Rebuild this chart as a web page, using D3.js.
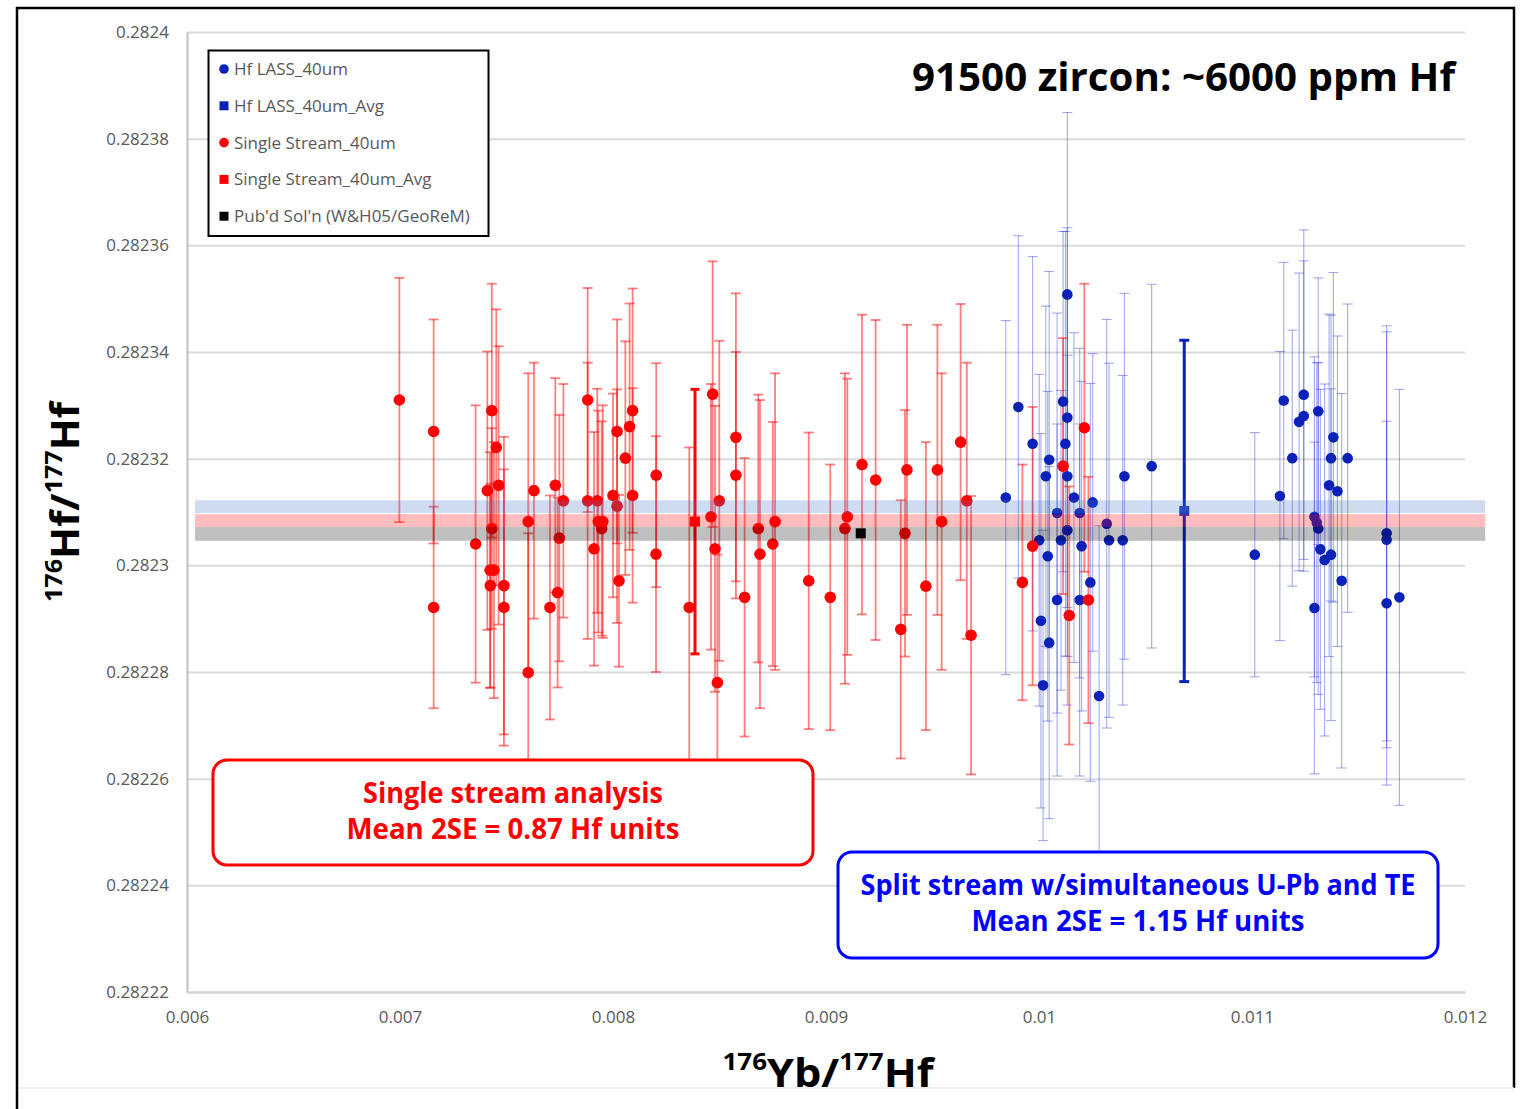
<!DOCTYPE html>
<html>
<head>
<meta charset="utf-8">
<script src="https://cdn.jsdelivr.net/npm/d3@7"></script>
<style>
  body { margin: 0; background: #fff; }
  svg text { font-family: "Open Sans", sans-serif; }
</style>
</head>
<body>
<div id="chart"></div>
<script>
// Single stream (red) spots: 176Yb/177Hf, 176Hf/177Hf, 2SE
const singleX = [
  0.006997, 0.007158, 0.007158, 0.007355, 0.007410, 0.007431, 0.007452, 0.007463, 0.007431, 0.007423,
  0.007441, 0.007424, 0.007488, 0.007488, 0.007602, 0.007602, 0.007629, 0.007704, 0.007729, 0.007740,
  0.007748, 0.007767, 0.007881, 0.007881, 0.007911, 0.007926, 0.007931, 0.007952, 0.007947, 0.008000,
  0.008019, 0.008019, 0.008028, 0.008058, 0.008078, 0.008092, 0.008092, 0.008203, 0.008202, 0.008358,
  0.008468, 0.008460, 0.008479, 0.008490, 0.008499, 0.008577, 0.008577, 0.008618, 0.008682, 0.008690,
  0.008761, 0.008750, 0.008919, 0.009020, 0.009089, 0.009100, 0.009169, 0.009233, 0.009351, 0.009371,
  0.009380, 0.009469, 0.009523, 0.009543, 0.009632, 0.009661, 0.009681, 0.009922, 0.009970, 0.010113,
  0.010142, 0.010213, 0.010232
];
const singleY = [
  0.2823310, 0.2823251, 0.2822921, 0.2823040, 0.2823140, 0.2823290, 0.2823221, 0.2823150, 0.2823069, 0.2822991,
  0.2822991, 0.2822962, 0.2822962, 0.2822921, 0.2822799, 0.2823082, 0.2823140, 0.2822921, 0.2823150, 0.2822949,
  0.2823051, 0.2823121, 0.2823310, 0.2823121, 0.2823031, 0.2823121, 0.2823082, 0.2823082, 0.2823069, 0.2823131,
  0.2823251, 0.2823111, 0.2822971, 0.2823201, 0.2823260, 0.2823290, 0.2823131, 0.2823169, 0.2823021, 0.2822921,
  0.2823321, 0.2823091, 0.2823031, 0.2822780, 0.2823121, 0.2823240, 0.2823169, 0.2822940, 0.2823069, 0.2823021,
  0.2823082, 0.2823040, 0.2822971, 0.2822940, 0.2823069, 0.2823091, 0.2823189, 0.2823160, 0.2822880, 0.2823060,
  0.2823179, 0.2822961, 0.2823179, 0.2823082, 0.2823231, 0.2823121, 0.2822869, 0.2822968, 0.2823036, 0.2823186,
  0.2822906, 0.2823258, 0.2822935
];
const singleErr = [
  0.0000229, 0.0000210, 0.0000189, 0.0000260, 0.0000261, 0.0000238, 0.0000259, 0.0000261, 0.0000188, 0.0000221,
  0.0000240, 0.0000191, 0.0000279, 0.0000259, 0.0000261, 0.0000278, 0.0000240, 0.0000210, 0.0000201, 0.0000178,
  0.0000231, 0.0000219, 0.0000210, 0.0000259, 0.0000219, 0.0000210, 0.0000208, 0.0000218, 0.0000201, 0.0000191,
  0.0000210, 0.0000219, 0.0000161, 0.0000219, 0.0000231, 0.0000229, 0.0000201, 0.0000210, 0.0000221, 0.0000300,
  0.0000249, 0.0000249, 0.0000268, 0.0000240, 0.0000300, 0.0000270, 0.0000231, 0.0000261, 0.0000251, 0.0000289,
  0.0000278, 0.0000229, 0.0000278, 0.0000249, 0.0000291, 0.0000259, 0.0000281, 0.0000300, 0.0000242, 0.0000231,
  0.0000272, 0.0000270, 0.0000272, 0.0000278, 0.0000259, 0.0000259, 0.0000261, 0.0000221, 0.0000261, 0.0000240,
  0.0000242, 0.0000270, 0.0000231
];

// Hf LASS split stream (blue) spots
const lassX = [
  0.009844, 0.009903, 0.009970, 0.010001, 0.010009, 0.010019, 0.010041, 0.010048, 0.010048, 0.010032,
  0.010085, 0.010085, 0.010103, 0.010113, 0.010124, 0.010133, 0.010133, 0.010133, 0.010133, 0.010164,
  0.010191, 0.010200, 0.010191, 0.010241, 0.010252, 0.010282, 0.010318, 0.010329, 0.010393, 0.010401,
  0.010529, 0.011013, 0.011131, 0.011149, 0.011189, 0.011221, 0.011243, 0.011243, 0.011293, 0.011304,
  0.011293, 0.011311, 0.011311, 0.011321, 0.011341, 0.011362, 0.011371, 0.011382, 0.011371, 0.011401,
  0.011421, 0.011449, 0.011632, 0.011632, 0.011632, 0.011692
];
const lassY = [
  0.2823127, 0.2823297, 0.2823228, 0.2823047, 0.2822896, 0.2822775, 0.2823017, 0.2823198, 0.2822855, 0.2823167,
  0.2823098, 0.2822935, 0.2823047, 0.2823307, 0.2823228, 0.2823277, 0.2823167, 0.2823508, 0.2823066, 0.2823127,
  0.2823098, 0.2823036, 0.2822935, 0.2822968, 0.2823118, 0.2822755, 0.2823078, 0.2823047, 0.2823047, 0.2823167,
  0.2823186, 0.2823020, 0.2823130, 0.2823309, 0.2823201, 0.2823269, 0.2823280, 0.2823320, 0.2823091, 0.2823080,
  0.2822920, 0.2823289, 0.2823069, 0.2823030, 0.2823010, 0.2823150, 0.2823201, 0.2823240, 0.2823020, 0.2823139,
  0.2822971, 0.2823201, 0.2823060, 0.2823048, 0.2822929, 0.2822940
];
const lassErr = [
  0.0000332, 0.0000321, 0.0000351, 0.0000311, 0.0000351, 0.0000291, 0.0000309, 0.0000353, 0.0000330, 0.0000319,
  0.0000375, 0.0000330, 0.0000281, 0.0000319, 0.0000398, 0.0000356, 0.0000338, 0.0000341, 0.0000328, 0.0000309,
  0.0000309, 0.0000309, 0.0000330, 0.0000373, 0.0000279, 0.0000319, 0.0000383, 0.0000332, 0.0000309, 0.0000343,
  0.0000341, 0.0000229, 0.0000271, 0.0000259, 0.0000240, 0.0000279, 0.0000291, 0.0000309, 0.0000300, 0.0000300,
  0.0000311, 0.0000250, 0.0000311, 0.0000300, 0.0000330, 0.0000321, 0.0000268, 0.0000309, 0.0000311, 0.0000291,
  0.0000351, 0.0000289, 0.0000389, 0.0000390, 0.0000341, 0.0000390
];

// averages: [single stream, LASS]
const avgX = [0.008385, 0.010682];
const avgY = [0.2823082, 0.2823102];
const avgErr = [0.0000248, 0.0000320];

// published solution value
const pubX = [0.009163];
const pubY = [0.2823060];

// mean bands: [LASS, single stream, published]
const bandY = [0.2823110, 0.2823084, 0.2823059];
const bandHalf = [0.0000012, 0.0000012, 0.0000013];
const bandX = [0.006038, 0.012095];

const xTicks = [0.006, 0.007, 0.008, 0.009, 0.010, 0.011, 0.012];
const yTicks = [0.28222, 0.28224, 0.28226, 0.28228, 0.2823, 0.28232, 0.28234, 0.28236, 0.28238, 0.2824];

const legendLabels = [
  "Hf LASS_40um",
  "Hf LASS_40um_Avg",
  "Single Stream_40um",
  "Single Stream_40um_Avg",
  "Pub'd Sol'n (W&H05/GeoReM)"
];

class HfScatterVis {
  constructor(_parentElement) {
    this.parentElement = _parentElement;
    this.initVis();
  }

  initVis() {
    let vis = this;

    vis.margin = { top: 32, right: 59, bottom: 117, left: 187 };
    vis.width = 1524 - vis.margin.left - vis.margin.right;
    vis.height = 1109 - vis.margin.top - vis.margin.bottom;

    vis.root = d3
      .select("#" + vis.parentElement)
      .append("svg")
      .attr("width", 1524)
      .attr("height", 1109);

    vis.svg = vis.root
      .append("g")
      .attr("transform", "translate(" + vis.margin.left + "," + vis.margin.top + ")");

    vis.x = d3.scaleLinear().domain([0.006, 0.012]).range([0, vis.width]);
    vis.y = d3.scaleLinear().domain([0.28222, 0.2824]).range([vis.height, 0]);

    // gridlines
    vis.svg
      .append("g")
      .attr("class", "grid")
      .call(d3.axisLeft(vis.y).tickValues(yTicks).tickSize(-vis.width).tickFormat(""))
      .call((g) => g.select(".domain").remove())
      .call((g) => g.selectAll("line").attr("stroke", "#d9d9d9").attr("stroke-width", 2));

    // y axis labels + left axis line
    vis.svg
      .append("g")
      .attr("class", "y-axis")
      .call(
        d3.axisLeft(vis.y).tickValues(yTicks).tickSize(0).tickPadding(18)
          .tickFormat((d) => String(+d.toFixed(5)))
      )
      .call((g) => g.select(".domain").attr("stroke", "#bfbfbf").attr("stroke-width", 2))
      .call((g) => g.selectAll("text").attr("fill", "#595959").style("font-size", "17px"));

    // x axis labels
    vis.svg
      .append("g")
      .attr("class", "x-axis")
      .attr("transform", "translate(0," + vis.height + ")")
      .call(
        d3.axisBottom(vis.x).tickValues(xTicks).tickSize(0).tickPadding(19)
          .tickFormat((d) => String(+d.toFixed(3)))
      )
      .call((g) => g.select(".domain").attr("stroke", "#d0d0d0").attr("stroke-width", 2))
      .call((g) => g.selectAll("text").attr("fill", "#595959").style("font-size", "17px"));

    vis.wrangleData();
  }

  wrangleData() {
    let vis = this;

    vis.single = singleX.map((d, i) => ({ x: d, y: singleY[i], err: singleErr[i] }));
    vis.lass = lassX.map((d, i) => ({ x: d, y: lassY[i], err: lassErr[i] }));
    vis.avgs = avgX.map((d, i) => ({ x: d, y: avgY[i], err: avgErr[i] }));
    vis.pub = pubX.map((d, i) => ({ x: d, y: pubY[i] }));
    vis.bands = bandY.map((d, i) => ({ y: d, half: bandHalf[i] }));

    vis.updateVis();
  }

  drawErrorBars(data, cls, color, opacity, width, capW) {
    let vis = this;
    let g = vis.svg.append("g").attr("class", cls)
      .attr("stroke", color).attr("stroke-opacity", opacity).attr("stroke-width", width);

    let bars = g.selectAll("g").data(data).enter().append("g");
    bars.append("line")
      .attr("x1", (d) => vis.x(d.x)).attr("x2", (d) => vis.x(d.x))
      .attr("y1", (d) => vis.y(d.y + d.err)).attr("y2", (d) => vis.y(d.y - d.err));
    bars.append("line")
      .attr("x1", (d) => vis.x(d.x) - capW / 2).attr("x2", (d) => vis.x(d.x) + capW / 2)
      .attr("y1", (d) => vis.y(d.y + d.err)).attr("y2", (d) => vis.y(d.y + d.err));
    bars.append("line")
      .attr("x1", (d) => vis.x(d.x) - capW / 2).attr("x2", (d) => vis.x(d.x) + capW / 2)
      .attr("y1", (d) => vis.y(d.y - d.err)).attr("y2", (d) => vis.y(d.y - d.err));
  }

  updateVis() {
    let vis = this;

    // error bars
    vis.drawErrorBars(vis.lass, "lass-err", "#2536d8", 0.42, 1.1, 10);
    vis.drawErrorBars(vis.single, "single-err", "#ff0000", 0.5, 1.8, 10);
    vis.drawErrorBars([vis.avgs[0]], "avg-err-red", "#ff0000", 1, 3, 9);
    vis.drawErrorBars([vis.avgs[1]], "avg-err-blue", "#0a22b8", 1, 3, 10);

    // dots
    vis.svg.append("g").selectAll(".lass-dot").data(vis.lass).enter()
      .append("circle").attr("class", "lass-dot")
      .attr("cx", (d) => vis.x(d.x)).attr("cy", (d) => vis.y(d.y))
      .attr("r", 5.3).attr("fill", "#0a22b8");

    vis.svg.append("g").selectAll(".single-dot").data(vis.single).enter()
      .append("circle").attr("class", "single-dot")
      .attr("cx", (d) => vis.x(d.x)).attr("cy", (d) => vis.y(d.y))
      .attr("r", 5.8).attr("fill", "#ff0000");

    // average + published squares
    let sq = 10;
    vis.svg.append("g").selectAll(".avg").data(vis.avgs).enter()
      .append("rect").attr("class", "avg")
      .attr("x", (d) => vis.x(d.x) - sq / 2).attr("y", (d) => vis.y(d.y) - sq / 2)
      .attr("width", sq).attr("height", sq)
      .attr("fill", (d, i) => (i === 0 ? "#ff0000" : "#1f3cc0"));

    vis.svg.append("g").selectAll(".pub").data(vis.pub).enter()
      .append("rect").attr("class", "pub")
      .attr("x", (d) => vis.x(d.x) - sq / 2).attr("y", (d) => vis.y(d.y) - sq / 2)
      .attr("width", sq).attr("height", sq).attr("fill", "#000");

    // translucent mean bands over the points
    let bandFill = ["rgba(68,114,196,0.26)", "rgba(255,0,0,0.26)", "rgba(0,0,0,0.25)"];
    vis.svg.append("g").selectAll(".band").data(vis.bands).enter()
      .append("rect").attr("class", "band")
      .attr("x", vis.x(bandX[0])).attr("width", vis.x(bandX[1]) - vis.x(bandX[0]))
      .attr("y", (d) => vis.y(d.y + d.half))
      .attr("height", (d) => vis.y(d.y - d.half) - vis.y(d.y + d.half))
      .attr("fill", (d, i) => bandFill[i]);

    vis.drawLegend();
    vis.drawText();
  }

  drawLegend() {
    let vis = this;
    let lg = vis.root.append("g").attr("class", "legend");
    lg.append("rect")
      .attr("x", 208.5).attr("y", 50.5).attr("width", 280).attr("height", 185.5)
      .attr("fill", "#fff").attr("stroke", "#000").attr("stroke-width", 2);

    let colors = ["#0a22b8", "#0a22b8", "#ff0000", "#ff0000", "#000"];
    let shapes = ["circle", "square", "circle", "square", "square"];

    let items = lg.selectAll(".item").data(legendLabels).enter()
      .append("g").attr("class", "item")
      .attr("transform", (d, i) => "translate(224," + (69 + i * 36.8) + ")");

    items.each(function (d, i) {
      let it = d3.select(this);
      if (shapes[i] === "circle") {
        it.append("circle").attr("r", 4.8).attr("fill", colors[i]);
      } else {
        it.append("rect").attr("x", -4.5).attr("y", -4.5).attr("width", 9).attr("height", 9)
          .attr("fill", colors[i]);
      }
    });

    items.append("text")
      .attr("x", 10).attr("dy", "0.35em")
      .attr("fill", "#595959").style("font-size", "17px")
      .text((d) => d);
  }

  drawText() {
    let vis = this;

    // title
    vis.root.append("text")
      .attr("x", 912).attr("y", 91)
      .attr("textLength", 543).attr("lengthAdjust", "spacingAndGlyphs")
      .style("font-size", "40px").style("font-weight", 700).attr("fill", "#000")
      .text("91500 zircon: ~6000 ppm Hf");

    // axis titles with superscript masses
    let isoLabel = (sel, a, b, c, d) => {
      sel.append("tspan").style("font-size", "24px").attr("dy", -17).text(a);
      sel.append("tspan").style("font-size", "40px").attr("dy", 17).text(b);
      sel.append("tspan").style("font-size", "24px").attr("dy", -17).text(c);
      sel.append("tspan").style("font-size", "40px").attr("dy", 17).text(d);
    };

    let yLab = vis.root.append("text")
      .attr("transform", "translate(79,502) rotate(-90)")
      .attr("text-anchor", "middle")
      .attr("textLength", 200).attr("lengthAdjust", "spacingAndGlyphs")
      .style("font-weight", 700).attr("fill", "#000");
    isoLabel(yLab, "176", "Hf/", "177", "Hf");

    let xLab = vis.root.append("text")
      .attr("transform", "translate(828,1087)")
      .attr("text-anchor", "middle")
      .attr("textLength", 211).attr("lengthAdjust", "spacingAndGlyphs")
      .style("font-weight", 700).attr("fill", "#000");
    isoLabel(xLab, "176", "Yb/", "177", "Hf");

    // annotation boxes
    let boxes = [
      { x: 213, y: 760, w: 600, h: 105, color: "#ff0000",
        lines: ["Single stream analysis", "Mean 2SE = 0.87 Hf units"], lens: [300, 333] },
      { x: 838, y: 852, w: 600, h: 106, color: "#0000ff",
        lines: ["Split stream w/simultaneous U-Pb and TE", "Mean 2SE = 1.15 Hf units"], lens: [555, 333] }
    ];

    boxes.forEach((b) => {
      let g = vis.root.append("g").attr("class", "note");
      g.append("rect")
        .attr("x", b.x).attr("y", b.y).attr("width", b.w).attr("height", b.h)
        .attr("rx", 14).attr("ry", 14)
        .attr("fill", "#fff").attr("stroke", b.color).attr("stroke-width", 3);
      b.lines.forEach((t, i) => {
        g.append("text")
          .attr("x", b.x + b.w / 2).attr("y", b.y + 43 + i * 36)
          .attr("text-anchor", "middle")
          .attr("textLength", b.lens[i]).attr("lengthAdjust", "spacingAndGlyphs")
          .style("font-size", "28px").style("font-weight", 700).attr("fill", b.color)
          .text(t);
      });
    });

    // outer frame
    let fr = vis.root.append("g").attr("class", "frame").attr("stroke-width", 2.5);
    fr.append("line").attr("x1", 1514).attr("x2", 1514).attr("y1", 7).attr("y2", 1088).attr("stroke", "#000");
    fr.append("line").attr("x1", 17).attr("x2", 1514).attr("y1", 1088).attr("y2", 1088)
      .attr("stroke", "#e8e8e8").attr("stroke-width", 1.5);
    fr.append("line").attr("x1", 16).attr("x2", 1515).attr("y1", 8).attr("y2", 8).attr("stroke", "#000");
    fr.append("line").attr("x1", 17).attr("x2", 17).attr("y1", 7).attr("y2", 1109).attr("stroke", "#000");
  }
}

let hfVis = new HfScatterVis("chart");
</script>
</body>
</html>
